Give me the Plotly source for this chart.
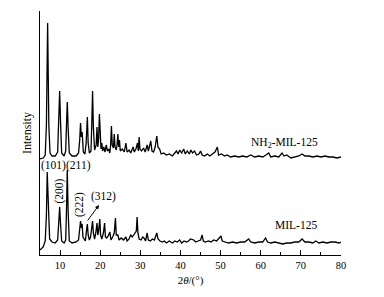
import plotly.graph_objects as go

# NH2-MIL-125 pattern (2theta, intensity incl. offset)
nh2_x = [5.0, 5.8, 6.3, 6.6, 6.9, 7.2, 7.5, 8.0, 8.8, 9.4, 9.7, 9.9, 10.1, 10.4, 11.0, 11.4, 11.6, 11.8, 12.0, 12.3,
         13.0, 14.0, 14.6, 14.9, 15.1, 15.3, 15.5, 15.8, 16.2, 16.5, 16.8, 17.0, 17.3, 17.7, 17.9, 18.1, 18.3, 18.6,
         19.0, 19.2, 19.4, 19.6, 19.8, 20.0, 20.2, 20.4, 20.6, 20.9, 21.2, 21.5, 21.8, 22.1, 22.4, 22.6, 22.8, 23.0,
         23.3, 23.5, 23.7, 24.0, 24.2, 24.4, 24.6, 24.8, 25.0, 25.5, 26.0, 26.4, 26.7, 27.2, 27.6, 28.0, 28.2, 28.5,
         28.9, 29.3, 29.5, 29.7, 29.9, 30.3, 30.8, 31.2, 31.7, 32.0, 32.3, 32.6, 32.9, 33.3, 33.7, 34.1, 34.4, 34.8,
         35.2, 35.8, 36.5, 37.2, 38.0, 38.6, 39.0, 39.4, 39.8, 40.3, 40.8, 41.2, 41.7, 42.2, 42.6, 43.0, 43.5, 44.0,
         44.6, 45.0, 45.4, 46.0, 46.7, 47.3, 48.0, 48.6, 49.2, 49.5, 50.2, 51.0, 51.6, 52.5, 53.5, 54.5, 55.5, 56.5,
         57.5, 58.5, 59.5, 60.5, 61.3, 62.0, 62.5, 63.5, 64.5, 65.3, 65.8, 66.5, 67.5, 68.5, 69.5, 70.3, 71.0, 72.0,
         73.0, 74.0, 75.0, 76.0, 77.0, 78.0, 79.0, 80.0]
nh2_y = [96, 97, 100, 130, 232, 130, 102, 99, 99, 103, 140, 164, 135, 102, 99, 104, 130, 153, 128, 102,
         99, 99, 102, 115, 132, 118, 123, 103, 101, 112, 138, 112, 102, 104, 130, 164, 128, 105,
         110, 128, 108, 115, 141, 118, 106, 112, 104, 108, 103, 110, 104, 106, 102, 110, 129, 110,
         107, 121, 108, 105, 110, 121, 108, 115, 104, 106, 103, 112, 103, 105, 102, 106, 108, 103,
         106, 112, 104, 118, 106, 104, 107, 103, 110, 104, 108, 114, 104, 103, 108, 119, 108, 106,
         101, 102, 100, 101, 99, 102, 104, 101, 105, 102, 106, 101, 104, 101, 105, 102, 104, 100,
         101, 104, 100, 99, 101, 99, 101, 103, 108, 100, 101, 99, 100, 98, 99, 98, 99, 98,
         100, 98, 99, 98, 100, 102, 98, 99, 98, 102, 99, 100, 97, 98, 99, 101, 99, 99,
         98, 99, 98, 99, 98, 98, 97, 98]

# MIL-125 pattern
mil_x = [5.0, 5.8, 6.3, 6.6, 6.8, 7.1, 7.4, 8.0, 8.8, 9.4, 9.7, 9.9, 10.1, 10.4, 11.0, 11.4, 11.6, 11.8, 12.0, 12.3,
         13.0, 14.0, 14.6, 14.9, 15.1, 15.3, 15.5, 15.7, 16.0, 16.3, 16.6, 16.8, 17.0, 17.3, 17.6, 17.9, 18.1, 18.3,
         18.6, 18.9, 19.2, 19.4, 19.6, 19.9, 20.1, 20.4, 20.8, 21.1, 21.3, 21.6, 22.0, 22.4, 22.7, 23.1, 23.5, 23.8,
         24.0, 24.4, 24.7, 25.2, 25.8, 26.4, 26.7, 27.2, 27.6, 28.0, 28.4, 28.8, 29.0, 29.2, 29.4, 29.7, 30.2, 30.6,
         30.9, 31.3, 31.7, 32.0, 32.5, 33.0, 33.5, 34.1, 34.4, 34.9, 35.5, 36.0, 36.5, 37.2, 38.0, 38.6, 39.2, 39.8,
         40.3, 40.9, 41.5, 42.0, 42.5, 43.3, 43.8, 44.4, 45.0, 45.4, 45.7, 46.2, 47.0, 47.6, 48.3, 49.0, 49.6, 50.1,
         50.4, 51.0, 52.0, 53.0, 54.0, 55.0, 56.0, 57.0, 57.5, 58.5, 59.5, 60.5, 61.2, 61.7, 62.5, 63.5, 64.5, 65.5,
         66.5, 67.5, 68.5, 69.5, 70.3, 71.0, 72.0, 73.0, 73.7, 74.5, 75.5, 76.5, 77.5, 78.5, 79.5, 80.0]
mil_y = [5, 8, 14, 40, 83, 40, 16, 13, 12, 15, 35, 48, 32, 14, 12, 15, 45, 85, 45, 14,
         12, 13, 15, 25, 34, 27, 31, 18, 16, 14, 25, 31, 20, 15, 18, 28, 34, 22,
         16, 22, 32, 20, 24, 36, 20, 16, 22, 32, 18, 17, 19, 23, 15, 18, 22, 37,
         20, 20, 15, 17, 15, 18, 14, 16, 20, 18, 20, 22, 24, 38, 22, 16, 15, 18,
         17, 14, 22, 15, 14, 16, 15, 22, 16, 14, 13, 14, 12, 14, 12, 14, 13, 15,
         12, 14, 13, 14, 16, 15, 13, 14, 15, 20, 14, 13, 14, 13, 15, 14, 17, 19,
         14, 13, 12, 13, 12, 13, 13, 16, 13, 12, 13, 13, 17, 13, 12, 13, 12, 11,
         12, 12, 13, 13, 16, 13, 13, 12, 14, 12, 13, 12, 13, 13, 12, 13]

x_ticks = [10, 20, 30, 40, 50, 60, 70, 80]
series_names = ["NH<sub>2</sub>-MIL-125", "MIL-125"]
peak_labels = ["(101)", "(211)", "(200)", "(222)", "(312)"]

FONT = "Liberation Serif, Times New Roman, serif"

fig = go.Figure()
for xs, ys in [(nh2_x, nh2_y), (mil_x, mil_y)]:
    fig.add_trace(go.Scatter(x=xs, y=ys, mode="lines",
                             line=dict(color="black", width=1.3), showlegend=False,
                             hoverinfo="skip"))

ann = []
ann.append(dict(x=65.9, y=112, text=series_names[0], showarrow=False))
ann.append(dict(x=68.9, y=30, text=series_names[1], showarrow=False))
ann.append(dict(x=8.4, y=89.5, text=peak_labels[0], showarrow=False))
ann.append(dict(x=14.6, y=89.5, text=peak_labels[1], showarrow=False))
ann.append(dict(x=9.85, y=64, text=peak_labels[2], showarrow=False, textangle=-90))
ann.append(dict(x=14.73, y=50, text=peak_labels[3], showarrow=False, textangle=-90))
ann.append(dict(x=20.75, y=59, text=peak_labels[4], showarrow=False))
ann.append(dict(x=19.7, y=50, ax=16.6, ay=33, xref="x", yref="y", axref="x", ayref="y",
                text="", showarrow=True, arrowhead=2, arrowsize=0.8, arrowwidth=1,
                arrowcolor="black"))
for a in ann:
    a.setdefault("font", dict(family=FONT, size=11.5, color="black"))
fig.update_layout(annotations=ann)

# page body has an 8px default margin, so the figure is offset by (8, 8)
fig.update_layout(
    width=384, height=297,
    margin=dict(l=32, r=51, t=3, b=50),
    plot_bgcolor="white", paper_bgcolor="white",
    font=dict(family=FONT, size=11, color="black"),
    xaxis=dict(range=[5, 80], tickvals=x_ticks, ticks="inside", ticklen=5, tickwidth=1,
               tickcolor="black", showline=True, linecolor="black", linewidth=1,
               showgrid=False, zeroline=False, automargin=False,
               minor=dict(tickvals=[15, 25, 35, 45, 55, 65, 75], ticks="inside", ticklen=3,
                          tickwidth=1, tickcolor="black"),
               tickfont=dict(family=FONT, size=10.5),
               title=dict(text="2<i>θ</i>/(°)", font=dict(family=FONT, size=11), standoff=6)),
    yaxis=dict(range=[0, 244], tickvals=[244], ticks="inside", ticklen=12, tickwidth=1,
               tickcolor="black", showticklabels=False, showline=True, linecolor="black",
               linewidth=1, showgrid=False, zeroline=False, automargin=False,
               title=dict(text="Intensity", font=dict(family=FONT, size=12), standoff=4)),
)

fig.write_html("out.html")
